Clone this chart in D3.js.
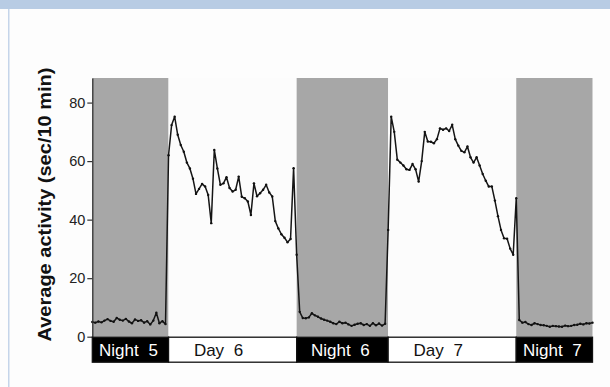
<!DOCTYPE html>
<meta charset="utf-8">
<script src="https://d3js.org/d3.v7.min.js"></script>
<style>
  body { margin: 0; background: #fdfdfd; }
  svg { display: block; }
  text { font-family: "Liberation Sans", Arial, sans-serif; }
</style>
<div id="chart"></div>
<script>

// activity, 20 min bins (sec / 10 min)
const stepHours = 1 / 3;
const night5 = [5.0, 4.8, 5.2, 4.9, 5.5, 6.0, 5.4, 5.1, 6.4, 5.8, 5.5, 6.1, 5.2, 4.6, 5.9,
  5.4, 5.6, 4.8, 5.3, 4.2, 5.5, 8.2, 4.6, 5.3, 4.3];
const day6 = [62, 72.3, 75.2, 69, 65.5, 63.2, 59.5, 57.5, 54, 48.8, 50.5, 52.2, 51.3, 48.4,
  38.8, 63.8, 57.5, 51.9, 52.4, 54.5, 50.8, 49.6, 50.2, 54.7, 47.8, 47.3, 46.2, 41.6, 52.4,
  48, 49, 50.2, 51.9, 49.3, 47.9, 39.5, 37, 35, 33.8, 32.3, 33.4, 57.6];
const night6 = [28, 8.5, 6.4, 6.3, 6.6, 8.0, 7.3, 6.8, 6.2, 5.8, 5.5, 5.1, 4.6, 4.3, 5.1,
  4.6, 4.8, 4.2, 3.7, 4.1, 4.4, 4.6, 4.0, 4.3, 3.7, 4.6, 3.9, 4.5, 3.8, 4.4];
const day7 = [36.5, 75.2, 70, 60.5, 59.5, 58.5, 57.2, 57, 59, 57.2, 53, 60, 70, 66.7, 66.6,
  66.1, 67.5, 71.2, 70.7, 71.2, 70.3, 72.4, 67.5, 65.3, 63.5, 63, 65, 61.3, 59.5, 61.3,
  58.5, 55.6, 53.3, 51.3, 51.3, 46.5, 41.2, 36.5, 33.6, 33.5, 30.1, 28];
const night7 = [47.3, 5.7, 4.8, 5.0, 4.3, 4.0, 4.6, 4.3, 4.0, 3.9, 3.7, 3.4, 3.7, 3.6, 3.5,
  3.4, 3.8, 3.6, 3.7, 4.0, 4.1, 4.4, 4.2, 4.6, 4.5, 4.8];

// light / dark periods (hours from start of record)
const periodLabels = ["Night 5", "Day 6", "Night 6", "Day 7", "Night 7"];
const periodEdges = [0, 25 / 3, 67 / 3, 97 / 3, 139 / 3, 164 / 3];
const yTicks = [0, 20, 40, 60, 80];

const W = 610, H = 387;
const margin = {top: 78, right: 17.5, bottom: 50.3, left: 92.3};
const width = W - margin.left - margin.right,
      height = H - margin.top - margin.bottom;

const svg = d3.select("#chart").append("svg")
  .attr("width", W).attr("height", H);

// page frame
svg.append("rect").attr("x", 0).attr("y", 0).attr("width", W).attr("height", 9)
  .attr("fill", "#b8cce4");
svg.append("rect").attr("x", 8).attr("y", 9).attr("width", 1.5).attr("height", H - 9)
  .attr("fill", "#c5d5ea");

const g = svg.append("g").attr("transform", `translate(${margin.left},${margin.top})`);

const x = d3.scaleLinear().domain([0, periodEdges[periodEdges.length - 1]]).range([0, width]);
const y = d3.scaleLinear().domain([0, 88.4]).range([height, 0]);

const periods = periodLabels.map((label, i) => ({
  label, dark: label.startsWith("Night"), x0: periodEdges[i], x1: periodEdges[i + 1]
}));

// shading
g.selectAll(".shade").data(periods).join("rect")
  .attr("class", "shade")
  .attr("x", d => x(d.x0)).attr("width", d => x(d.x1) - x(d.x0))
  .attr("y", 0).attr("height", height)
  .attr("fill", d => d.dark ? "#a7a7a7" : "#fcfcfc");

// series
const values = [].concat(night5, day6, night6, day7, night7);
const data = values.map((v, i) => ({t: i * stepHours, v}));

g.append("path").datum(data)
  .attr("fill", "none").attr("stroke", "#151515").attr("stroke-width", 1.5)
  .attr("stroke-linejoin", "round")
  .attr("d", d3.line().x(d => x(d.t)).y(d => y(d.v)));

g.selectAll(".pt").data(data).join("circle")
  .attr("class", "pt")
  .attr("cx", d => x(d.t)).attr("cy", d => y(d.v)).attr("r", 1.2)
  .attr("fill", "#111");

// y axis
const yAxis = g.append("g")
  .call(d3.axisLeft(y).tickValues(yTicks).tickSize(5).tickSizeOuter(0).tickPadding(2));
yAxis.select(".domain").attr("stroke", "#333").attr("stroke-width", 1.3);
yAxis.selectAll(".tick line").attr("stroke", "#333").attr("stroke-width", 1.2);
yAxis.selectAll(".tick text").attr("font-size", 14.5).attr("fill", "#222")
  .attr("font-family", "'Liberation Sans', Arial, sans-serif");

// period label bar
const barH = 26;
const bar = g.append("g").attr("transform", `translate(0,${height})`);
bar.selectAll("rect").data(periods).join("rect")
  .attr("x", d => x(d.x0)).attr("width", d => x(d.x1) - x(d.x0))
  .attr("y", 0.5).attr("height", barH - 1)
  .attr("fill", d => d.dark ? "#000" : "#fff")
  .attr("stroke", "#111").attr("stroke-width", 1.3);
bar.selectAll("text").data(periods).join("text")
  .attr("x", d => (x(d.x0) + x(d.x1)) / 2 + (d.dark ? -2 : -14))
  .attr("y", barH / 2 + 6)
  .attr("text-anchor", "middle")
  .attr("font-size", 17)
  .attr("word-spacing", 5)
  .attr("fill", d => d.dark ? "#fff" : "#111")
  .text(d => d.label);

// y title
svg.append("text")
  .attr("transform", `translate(51,${204.5}) rotate(-90)`)
  .attr("text-anchor", "middle")
  .attr("font-size", 17.5).attr("font-weight", "bold")
  .attr("textLength", 274).attr("lengthAdjust", "spacingAndGlyphs")
  .attr("fill", "#111")
  .text("Average activity (sec/10 min)");
</script>
